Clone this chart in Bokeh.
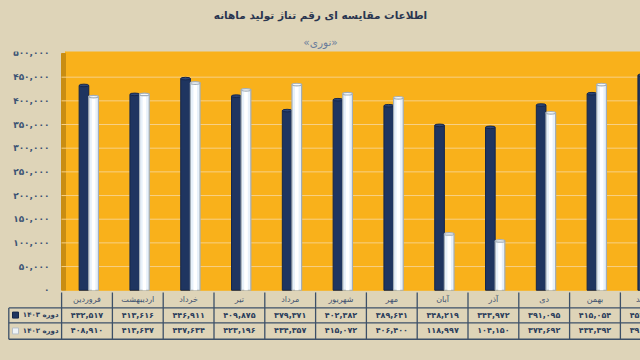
from bokeh.plotting import figure
from bokeh.models import Range1d, Title, ColumnDataSource
from bokeh.transform import dodge
from bokeh.embed import file_html
from bokeh.resources import INLINE
from bokeh.core.properties import value

# ---------------- data ----------------
title_text = "اطلاعات مقایسه ای رقم تناژ تولید ماهانه"
subtitle_text = "«نوری»"
months = ["فروردین", "اردیبهشت", "خرداد", "تیر", "مرداد", "شهریور",
          "مهر", "آبان", "آذر", "دی", "بهمن", "اسفند"]
series_names = ["دوره ۱۴۰۳", "دوره ۱۴۰۲"]
values_1403 = [432517, 413616, 446911, 409875, 379371, 402382,
               389641, 348219, 343972, 391095, 415054, 454000]
values_1402 = [408910, 413637, 437634, 423196, 434357, 415072,
               406400, 118997, 104150, 374692, 434392, 390000]
y_ticks = [0, 50000, 100000, 150000, 200000, 250000,
           300000, 350000, 400000, 450000, 500000]
y_tick_labels = ["۰", "۵۰,۰۰۰", "۱۰۰,۰۰۰", "۱۵۰,۰۰۰", "۲۰۰,۰۰۰", "۲۵۰,۰۰۰",
                 "۳۰۰,۰۰۰", "۳۵۰,۰۰۰", "۴۰۰,۰۰۰", "۴۵۰,۰۰۰", "۵۰۰,۰۰۰"]

# ---------------- styles / layout constants ----------------
BG = "#ded4b8"
ORANGE = "#f9b11b"
WALL = "#c98d12"
GRID = "#f7d086"
NAVY = "#1f3560"
NAVY_EDGE = "#15264a"
NAVY_CAP = "#2c4678"
WHITE_BAR = "#e8f1fa"
WHITE_EDGE = "#a3aeb8"
LINE = "#3d5068"
TXT = "#2c3e5c"
FONT = "DejaVu Sans"

X0, X1 = -1.7028, 10.8957          # visible category span
Y0, Y1 = -148421, 504210            # visible value span (frame)
WALL_L, WALL_R = -0.502, -0.423     # 3D side wall of plot area
LABEL_X = -0.738                    # right edge of value-axis labels
TABLE_L = -1.5394                   # left border of the data table
HEAD_Y = -20000                     # month-name row
FLOOR_Y = -4632                     # top of table rules
ROW_LINES = [-37474, -69053, -103579]
ROW_Y = [-52500, -86000]
KEY_X = -1.4075
NAME_X = -0.561
BAR_W = 0.19
CAP_H = 5500

fa = str.maketrans("0123456789", "۰۱۲۳۴۵۶۷۸۹")


def fa_num(v):
    return f"{v:,}".translate(fa)


n = len(months)
src = ColumnDataSource(dict(
    x=list(range(n)), month=months, v3=values_1403, v2=values_1402,
    t3=[fa_num(v) for v in values_1403], t2=[fa_num(v) for v in values_1402],
    y_head=[HEAD_Y] * n, y3=[ROW_Y[0]] * n, y2=[ROW_Y[1]] * n,
))

p = figure(width=640, height=360, output_backend="svg", toolbar_location=None,
           x_range=Range1d(X0, X1), y_range=Range1d(Y0, Y1),
           x_axis_location=None, y_axis_location=None,
           min_border_left=0, min_border_right=0, min_border_top=50, min_border_bottom=0,
           background_fill_color=BG, border_fill_color=BG, outline_line_color=None)
p.xgrid.visible = False
p.ygrid.visible = False

sub = Title(text=subtitle_text, align="center", text_font=FONT,
            text_font_size="10.5px", text_font_style="normal", text_color="#6b7d9c",
            standoff=7)
p.add_layout(sub, "above")
main = Title(text=title_text, align="center", text_font=FONT,
             text_font_size="10.5px", text_font_style="bold", text_color="#2a3650",
             standoff=16, vertical_align="top")
p.add_layout(main, "above")

# plot-area background and 3D side wall
p.quad(left=[WALL_R], right=[X1 + 1], bottom=[0], top=[Y1 + 10000], color=ORANGE)
p.quad(left=[WALL_L], right=[WALL_R], bottom=[0], top=[y_ticks[-1]], color=WALL)
grid_vals = y_ticks[1:-1]
p.segment(x0=[WALL_L] * len(grid_vals), x1=[X1 + 1] * len(grid_vals),
          y0=grid_vals, y1=grid_vals, line_color=GRID, line_width=1)

# value labels
p.text(x=[LABEL_X] * len(y_ticks), y=y_ticks, text=y_tick_labels, text_align="right",
       text_baseline="middle", text_font=value(FONT), text_font_size="9px",
       text_font_style="bold", text_color="#3d5475")

# bars (cylinder-like: body + rounded cap + highlight)
p.vbar(x=dodge("x", -0.06), top="v3", bottom=0, width=BAR_W, source=src,
       fill_color=NAVY, line_color=NAVY_EDGE, line_width=1)
p.ellipse(x=dodge("x", -0.06), y="v3", width=BAR_W, height=CAP_H, source=src,
          fill_color=NAVY_CAP, line_color=NAVY_EDGE, line_width=1)
p.vbar(x=dodge("x", 0.13), top="v2", bottom=0, width=BAR_W, source=src,
       fill_color=WHITE_BAR, line_color=WHITE_EDGE, line_width=1.2)
p.vbar(x=dodge("x", 0.13), top="v2", bottom=0, width=0.07, source=src,
       fill_color="#ffffff", line_color=None)
p.ellipse(x=dodge("x", 0.13), y="v2", width=BAR_W, height=CAP_H, source=src,
          fill_color="#f3f7fb", line_color=WHITE_EDGE, line_width=1.2)

# data table
bounds = [i - 0.5 for i in range(n + 1)]
p.segment(x0=bounds, x1=bounds, y0=[FLOOR_Y] * len(bounds), y1=[ROW_LINES[-1]] * len(bounds),
          line_color=LINE, line_width=1.3)
p.segment(x0=[TABLE_L], x1=[TABLE_L], y0=[ROW_LINES[0]], y1=[ROW_LINES[-1]],
          line_color=LINE, line_width=1.3)
p.segment(x0=[TABLE_L] * 3, x1=[X1 + 1] * 3, y0=ROW_LINES, y1=ROW_LINES,
          line_color=LINE, line_width=1.3)

p.text(x="x", y="y_head", text="month", source=src, text_align="center",
       text_baseline="middle", text_font=value(FONT), text_font_size="8px",
       text_color="#3d5170")
p.text(x="x", y="y3", text="t3", source=src, text_align="center", text_baseline="middle",
       text_font=value(FONT), text_font_size="8px", text_font_style="bold", text_color=TXT)
p.text(x="x", y="y2", text="t2", source=src, text_align="center", text_baseline="middle",
       text_font=value(FONT), text_font_size="8px", text_font_style="bold", text_color=TXT)

# legend keys inside the table
p.scatter(x=[KEY_X, KEY_X], y=ROW_Y, marker="square", size=6,
          fill_color=[NAVY, "#eef3f8"], line_color=[NAVY_EDGE, "#b8c0c8"])
p.text(x=[NAME_X, NAME_X], y=ROW_Y, text=series_names, text_align="right",
       text_baseline="middle", text_font=value(FONT), text_font_size="7px",
       text_font_style="bold", text_color=TXT)

html = file_html(p, INLINE, title="chart")
html = html.replace("</head>", "<style>html,body{background:" + BG + ";}</style></head>", 1)
open("out.html", "w").write(html)
